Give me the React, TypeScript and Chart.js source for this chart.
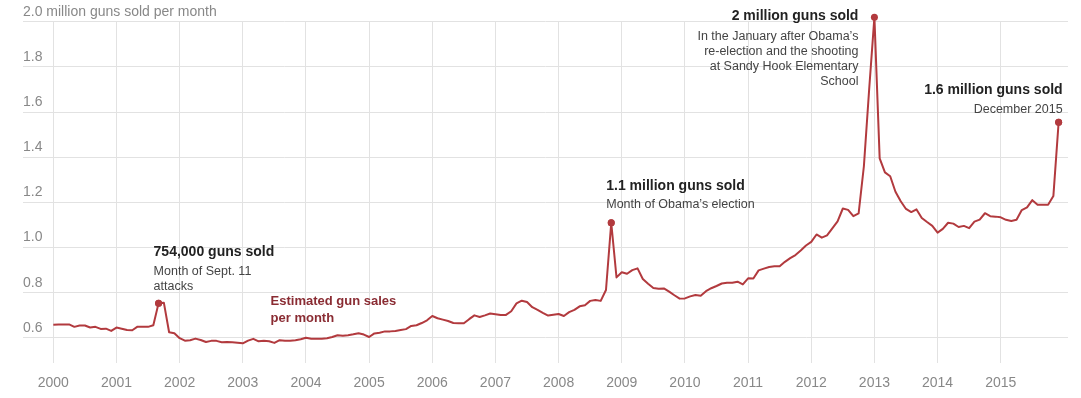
import React, { useEffect, useRef } from "react";
import { Chart, registerables } from "chart.js";

Chart.register(...registerables);

// Estimated guns sold per month (millions), Jan..Dec of each year
const years = [2000, 2001, 2002, 2003, 2004, 2005, 2006, 2007, 2008, 2009, 2010, 2011, 2012, 2013, 2014, 2015];
const sales2000 = [0.658, 0.659, 0.659, 0.66, 0.649, 0.655, 0.655, 0.646, 0.649, 0.64, 0.641, 0.631];
const sales2001 = [0.646, 0.641, 0.635, 0.634, 0.65, 0.65, 0.649, 0.656, 0.754, 0.756, 0.625, 0.621];
const sales2002 = [0.599, 0.588, 0.59, 0.597, 0.591, 0.582, 0.587, 0.587, 0.581, 0.582, 0.581, 0.579];
const sales2003 = [0.576, 0.588, 0.596, 0.585, 0.587, 0.585, 0.578, 0.59, 0.587, 0.587, 0.59, 0.594];
const sales2004 = [0.601, 0.596, 0.596, 0.596, 0.599, 0.604, 0.612, 0.61, 0.612, 0.616, 0.621, 0.615];
const sales2005 = [0.604, 0.62, 0.623, 0.629, 0.629, 0.631, 0.635, 0.639, 0.653, 0.656, 0.666, 0.678];
const sales2006 = [0.697, 0.687, 0.681, 0.675, 0.666, 0.665, 0.665, 0.683, 0.7, 0.693, 0.7, 0.708];
const sales2007 = [0.705, 0.702, 0.702, 0.718, 0.753, 0.765, 0.759, 0.736, 0.724, 0.711, 0.699, 0.703];
const sales2008 = [0.706, 0.697, 0.714, 0.724, 0.74, 0.745, 0.764, 0.768, 0.764, 0.812, 1.11, 0.868];
const sales2009 = [0.891, 0.884, 0.9, 0.908, 0.861, 0.84, 0.821, 0.818, 0.819, 0.805, 0.789, 0.774];
const sales2010 = [0.775, 0.784, 0.79, 0.787, 0.807, 0.82, 0.83, 0.841, 0.844, 0.844, 0.849, 0.837];
const sales2011 = [0.864, 0.863, 0.899, 0.907, 0.914, 0.917, 0.917, 0.937, 0.953, 0.967, 0.987, 1.009];
const sales2012 = [1.025, 1.058, 1.044, 1.054, 1.085, 1.116, 1.173, 1.167, 1.139, 1.151, 1.36, 1.7];
const sales2013 = [2.02, 1.395, 1.333, 1.316, 1.247, 1.205, 1.171, 1.157, 1.169, 1.131, 1.113, 1.096];
const sales2014 = [1.066, 1.083, 1.11, 1.106, 1.091, 1.096, 1.086, 1.115, 1.124, 1.152, 1.139, 1.137];
const sales2015 = [1.134, 1.123, 1.118, 1.123, 1.166, 1.178, 1.21, 1.19, 1.19, 1.19, 1.228, 1.555];

const salesByYear = [
  sales2000, sales2001, sales2002, sales2003, sales2004, sales2005, sales2006, sales2007,
  sales2008, sales2009, sales2010, sales2011, sales2012, sales2013, sales2014, sales2015,
];

const yTicks = [0.6, 0.8, 1.0, 1.2, 1.4, 1.6, 1.8, 2.0];
const xTicks = years;
const yTopLabel = "2.0 million guns sold per month";

// highlighted months: index into the monthly series
const highlightIndices = [20, 106, 156, 191];

const LINE = "#b23a3e";
const FONT = "'Liberation Sans', Arial, sans-serif";
const SUB = 12.5;

type AnnLine = { text: string; dy: number; bold?: boolean; size: number; color: string };
type Ann = { index?: number; at?: { x: number; y: number }; dx: number; align: CanvasTextAlign; lines: AnnLine[] };

const annotations: Ann[] = [
  {
    index: 20, dx: -5, align: "left",
    lines: [
      { text: "754,000 guns sold", dy: -51, bold: true, size: 14, color: "#222" },
      { text: "Month of Sept. 11", dy: -31.5, size: SUB, color: "#444" },
      { text: "attacks", dy: -17, size: SUB, color: "#444" },
    ],
  },
  {
    index: 106, dx: -5, align: "left",
    lines: [
      { text: "1.1 million guns sold", dy: -37, bold: true, size: 14, color: "#222" },
      { text: "Month of Obama\u2019s election", dy: -18, size: SUB, color: "#444" },
    ],
  },
  {
    index: 156, dx: -16, align: "right",
    lines: [
      { text: "2 million guns sold", dy: -0.6, bold: true, size: 14, color: "#222" },
      { text: "In the January after Obama\u2019s", dy: 19, size: SUB, color: "#444" },
      { text: "re-election and the shooting", dy: 34.5, size: SUB, color: "#444" },
      { text: "at Sandy Hook Elementary", dy: 49.5, size: SUB, color: "#444" },
      { text: "School", dy: 64, size: SUB, color: "#444" },
    ],
  },
  {
    index: 191, dx: 4, align: "right",
    lines: [
      { text: "1.6 million guns sold", dy: -32, bold: true, size: 14, color: "#222" },
      { text: "December 2015", dy: -13, size: SUB, color: "#444" },
    ],
  },
  {
    at: { x: 2003.44, y: 0.7606 }, dx: 0, align: "left",
    lines: [
      { text: "Estimated gun sales", dy: 0, bold: true, size: 13, color: "#8a2c33" },
      { text: "per month", dy: 16.6, bold: true, size: 13, color: "#8a2c33" },
    ],
  },
];

const annotationPlugin = {
  id: "gunAnnotations",
  afterDatasetsDraw(chart: any) {
    const ctx = chart.ctx as CanvasRenderingContext2D;
    const meta = chart.getDatasetMeta(0);
    const xs = chart.scales.x;
    const ys = chart.scales.y;
    // highlight dots (drawn here so the one above the plot top is not skipped)
    const wide = { left: -1e4, top: -1e4, right: 1e4, bottom: 1e4 };
    highlightIndices.forEach((i) => {
      const el = meta.data[i];
      if (el) el.draw(ctx, wide);
    });
    annotations.forEach((a) => {
      let px: number, py: number;
      if (a.index !== undefined) {
        const el = meta.data[a.index];
        px = el.x;
        py = el.y;
      } else {
        px = xs.getPixelForValue(a.at!.x);
        py = ys.getPixelForValue(a.at!.y);
      }
      ctx.save();
      ctx.textAlign = a.align;
      ctx.textBaseline = "middle";
      a.lines.forEach((l) => {
        ctx.font = `${l.bold ? "bold " : ""}${l.size}px ${FONT}`;
        ctx.fillStyle = l.color;
        ctx.fillText(l.text, px + a.dx, py + l.dy);
      });
      ctx.restore();
    });
  },
};

export default function App() {
  const ref = useRef<HTMLCanvasElement>(null);

  useEffect(() => {
    if (!ref.current) return;
    const points: { x: number; y: number }[] = [];
    years.forEach((yr, i) => {
      salesByYear[i].forEach((v, m) => points.push({ x: yr + m / 12, y: v }));
    });

    const chart = new Chart(ref.current, {
      type: "line",
      data: {
        datasets: [
          {
            data: points,
            borderColor: LINE,
            backgroundColor: LINE,
            borderWidth: 2,
            tension: 0,
            borderJoinStyle: "round",
            clip: false as any,
            pointRadius: (c: any) => (highlightIndices.includes(c.dataIndex) ? 3.5 : 0),
            pointHoverRadius: 0,
            pointBorderWidth: 0,
            pointBackgroundColor: LINE,
          },
        ],
      },
      options: {
        animation: false,
        responsive: true,
        maintainAspectRatio: false,
        events: [],
        layout: { padding: { left: 23, right: 13, top: 21.7, bottom: 0 } },
        plugins: { legend: { display: false }, tooltip: { enabled: false }, title: { display: false } },
        scales: {
          x: {
            type: "linear",
            min: 1999.52,
            max: 2016.065,
            afterBuildTicks: (s: any) => {
              s.ticks = xTicks.map((v) => ({ value: v }));
            },
            afterFit: (s: any) => {
              s.height = 35;
            },
            grid: { color: "#e2e2e2", lineWidth: 1, drawTicks: false },
            border: { display: false },
            ticks: {
              padding: 12,
              color: "#888",
              font: { family: FONT, size: 14 },
              maxRotation: 0,
              autoSkip: false,
              callback: (v: any) => String(v),
            },
          },
          y: {
            type: "linear",
            min: 0.489,
            max: 2.0,
            afterBuildTicks: (s: any) => {
              s.ticks = yTicks.map((v) => ({ value: v }));
            },
            grid: { color: "#e2e2e2", lineWidth: 1, drawTicks: false },
            border: { display: false },
            ticks: {
              mirror: true,
              padding: 0,
              labelOffset: -10,
              color: "#888",
              font: { family: FONT, size: 14 },
              autoSkip: false,
              callback: (v: any) => (Math.abs(v - 2) < 1e-9 ? yTopLabel : Number(v).toFixed(1)),
            },
          },
        },
      },
      plugins: [annotationPlugin],
    });
    return () => chart.destroy();
  }, []);

  return (
    <div style={{ position: "fixed", left: 0, top: 0, width: 1081, height: 398 }}>
      <canvas ref={ref} />
    </div>
  );
}
